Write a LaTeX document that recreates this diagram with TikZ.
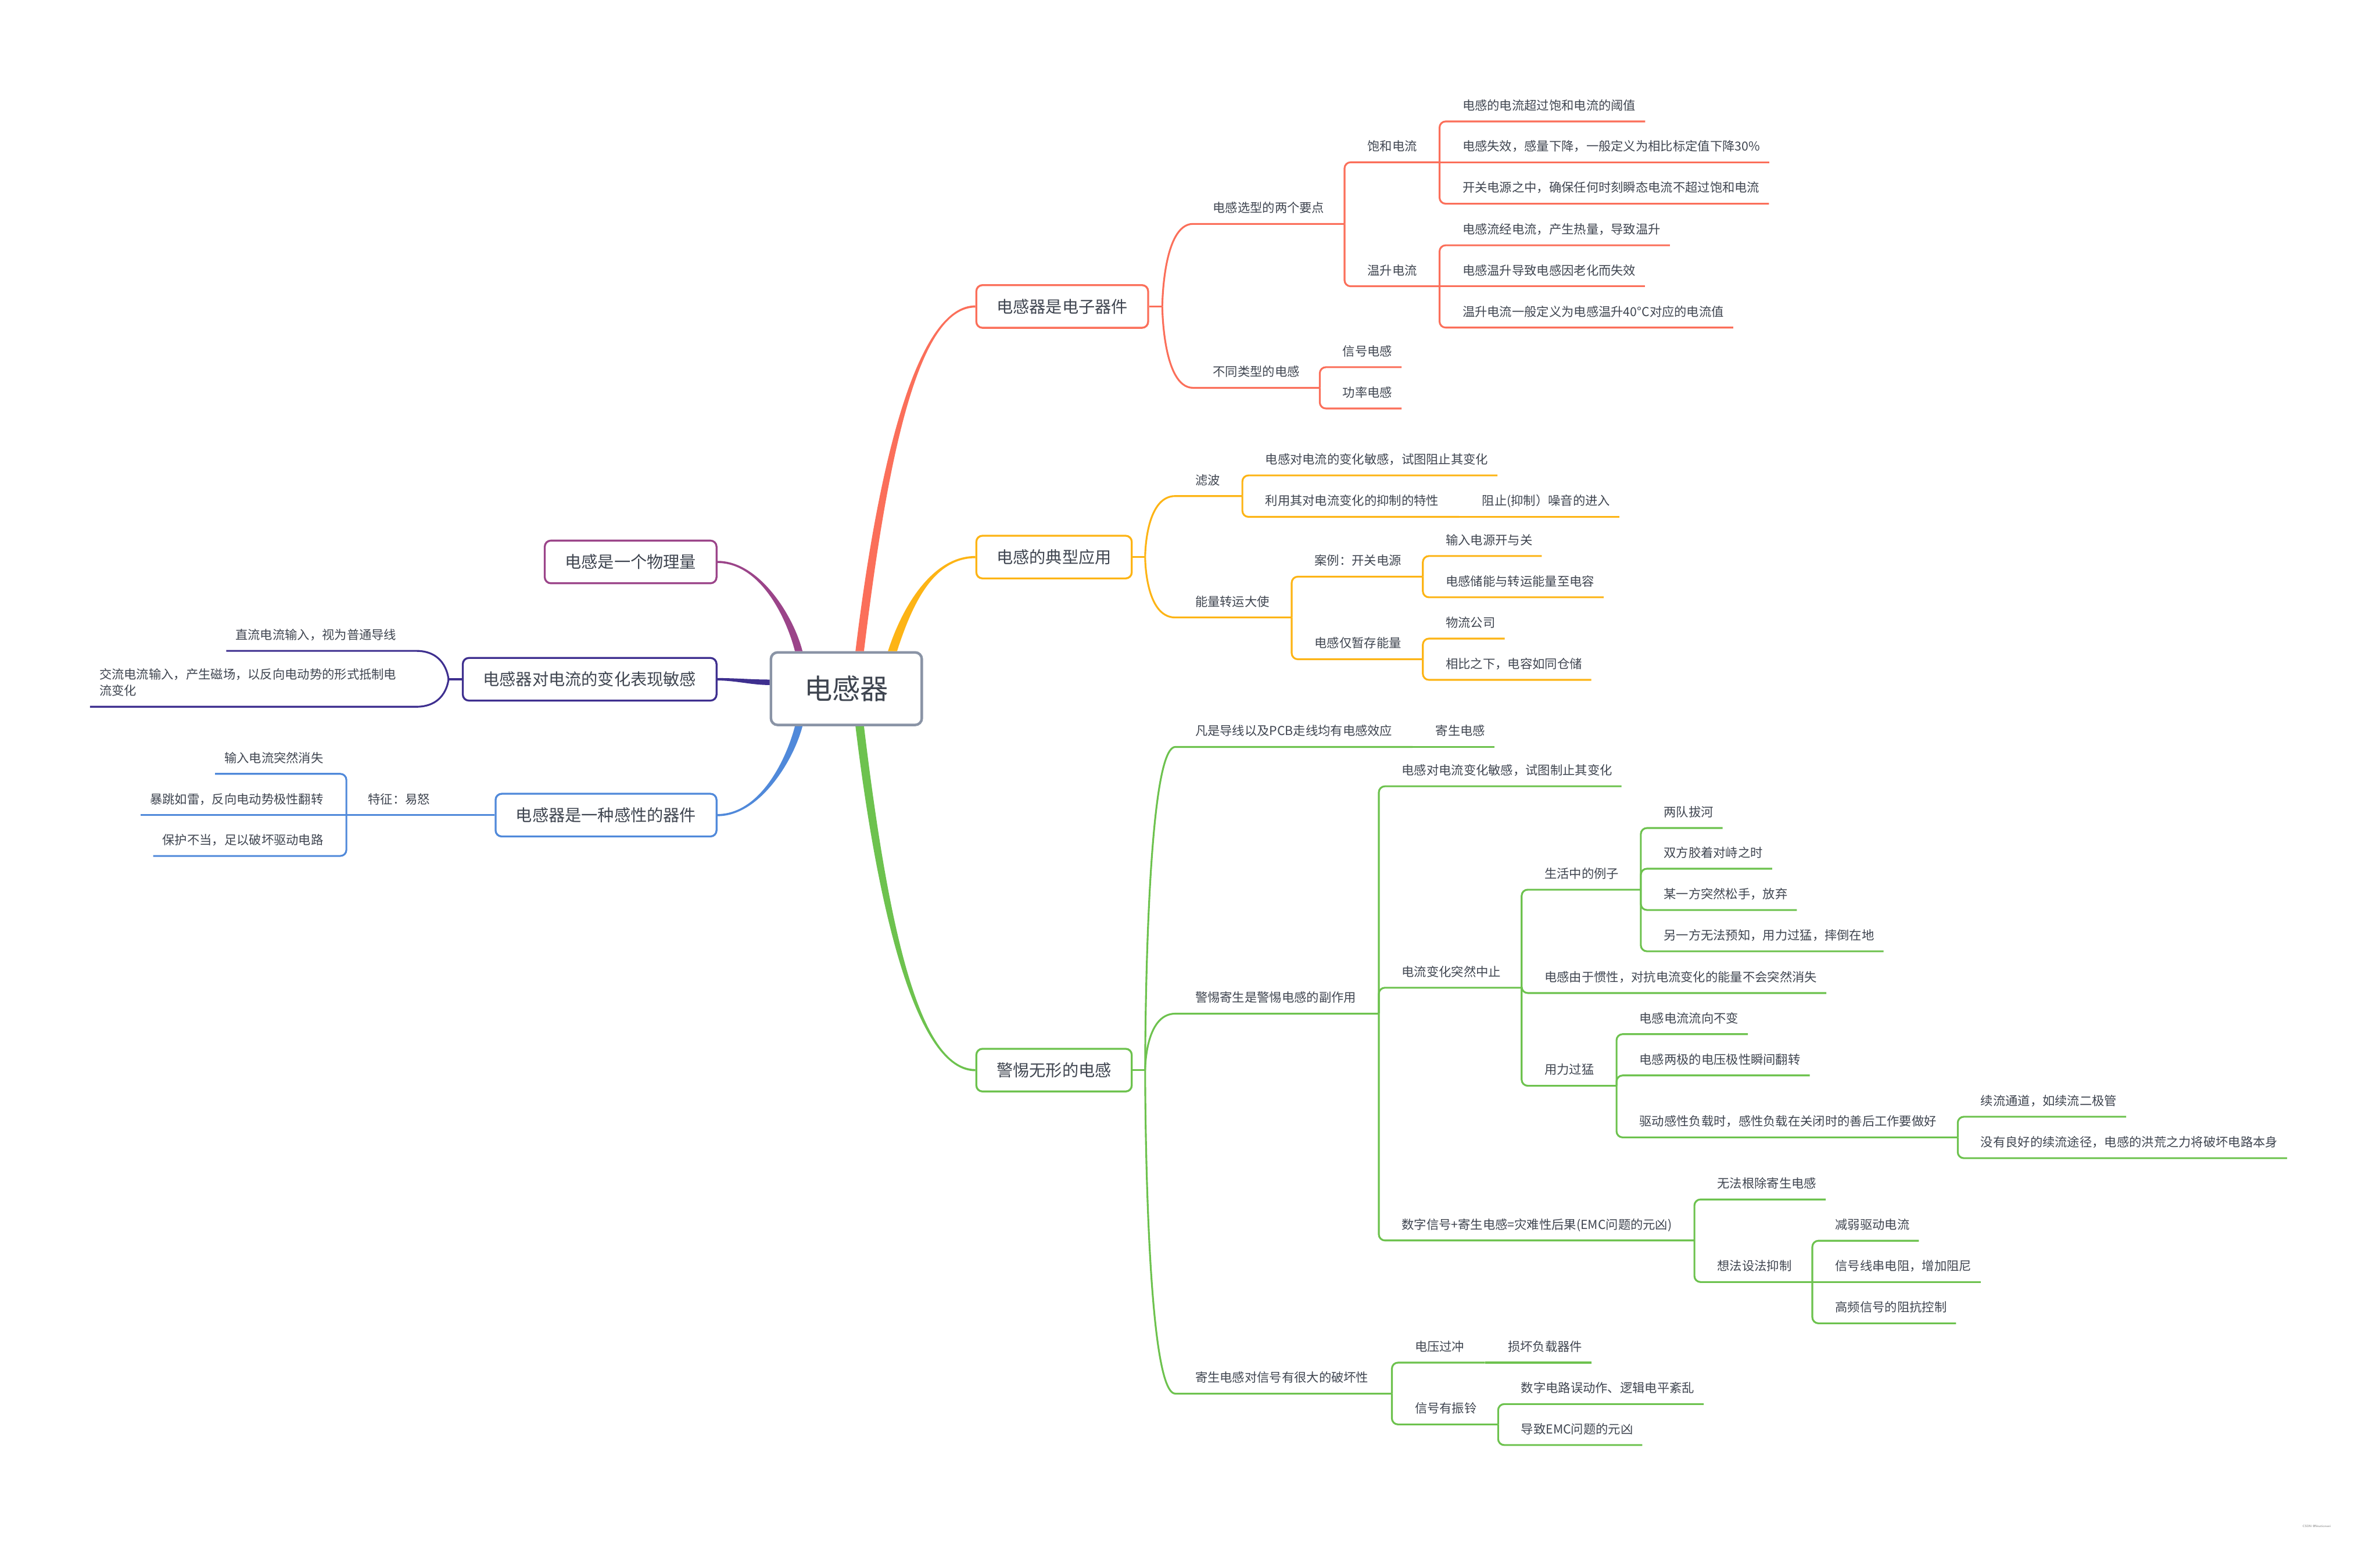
\documentclass[tikz,border=0pt]{standalone}
\usepackage{fontspec}
\newfontfamily\cjk{Noto Sans CJK SC}
\definecolor{inkgrey}{HTML}{3F4550}
\definecolor{rootgrey}{HTML}{8A94A6}
\definecolor{brred}{HTML}{FB6F5A}
\definecolor{brorange}{HTML}{FDB415}
\definecolor{brgreen}{HTML}{6DC24E}
\definecolor{brpurple}{HTML}{9B4489}
\definecolor{brindigo}{HTML}{3E2F8F}
\definecolor{brblue}{HTML}{5089DA}
\begin{document}
\begin{tikzpicture}[x=0.5mm, y=-0.5mm, font=\cjk, text=inkgrey,
    root node/.style={draw=rootgrey, line width=2.4pt, rounded corners=2.2mm, fill=white, minimum width=49.7mm, minimum height=23.9mm, inner sep=0pt, font=\cjk\fontsize{26.3pt}{30pt}\selectfont},
    main node/.style={line width=1.8pt, rounded corners=2mm, fill=white, minimum height=14.05mm, inner xsep=6.7mm, inner ysep=0pt, font=\cjk\fontsize{15.36pt}{18pt}\selectfont},
    topic/.style={anchor=south west, inner xsep=7.5mm, inner ysep=0pt, text depth=10.5pt, font=\cjk\fontsize{11.6pt}{15.2pt}\selectfont},
    ltopic/.style={topic, anchor=south east},
    redline/.style={draw=brred, line width=1.7pt, rounded corners=2mm},
    orangeline/.style={draw=brorange, line width=1.7pt, rounded corners=2mm},
    greenline/.style={draw=brgreen, line width=1.7pt, rounded corners=2mm},
    indigoline/.style={draw=brindigo, line width=1.7pt, rounded corners=2mm},
    blueline/.style={draw=brblue, line width=1.7pt, rounded corners=2mm},
    leaf/.style={shorten >=4.5mm} ]
    \fill[white] (0,0) rectangle (1568,1015);
    \useasboundingbox (0,0) rectangle (1568,1015);
    % root and main topics
    \node[root node] (c) at (557.6,453.7) {电感器};
    \node[main node, draw=brred, anchor=west] (r1) at (642.6,201.9) {电感器是电子器件};
    \node[main node, draw=brorange, anchor=west] (o1) at (642.6,367) {电感的典型应用};
    \node[main node, draw=brgreen, anchor=west] (g1) at (642.6,705) {警惕无形的电感};
    \node[main node, draw=brpurple, anchor=east] (p1) at (472.7,370.2) {电感是一个物理量};
    \node[main node, draw=brindigo, anchor=east] (i1) at (472.7,447.5) {电感器对电流的变化表现敏感};
    \node[main node, draw=brblue, anchor=east] (b1) at (472.7,537) {电感器是一种感性的器件};
    % tapered branches
    \coordinate (rt) at ([xshift=4.4mm]c.north);
    \coordinate (ot) at ([xshift=15.2mm]c.north);
    \coordinate (gt) at ([xshift=4.4mm]c.south);
    \coordinate (pt) at ([xshift=-15.7mm]c.north);
    \coordinate (bt) at ([xshift=-15.7mm]c.south);
    \coordinate (it) at ([yshift=2.1mm]c.west);
    \fill[brred] ([xshift=-1.4mm]rt) .. controls +(15.6,-129) and +(-37.6,0) .. ([yshift=0.35mm]r1.west) -- ([yshift=-0.35mm]r1.west) .. controls +(-37.6,0) and +(15.6,-129) .. ([xshift=1.4mm]rt) -- cycle;
    \fill[brorange] ([xshift=-1.5mm]ot) .. controls +(10,-31) and +(-27.6,0) .. ([yshift=0.35mm]o1.west) -- ([yshift=-0.35mm]o1.west) .. controls +(-27.6,0) and +(10,-31) .. ([xshift=1.5mm]ot) -- cycle;
    \fill[brgreen] ([xshift=-1.4mm]gt) .. controls +(15.6,129.6) and +(-37.6,0) .. ([yshift=-0.35mm]g1.west) -- ([yshift=0.35mm]g1.west) .. controls +(-37.6,0) and +(15.6,129.6) .. ([xshift=1.4mm]gt) -- cycle;
    \fill[brpurple] ([xshift=1.25mm]pt) .. controls +(-6.2,-24) and +(27.3,0) .. ([yshift=0.35mm]p1.east) -- ([yshift=-0.35mm]p1.east) .. controls +(27.3,0) and +(-6.2,-24) .. ([xshift=-1.25mm]pt) -- cycle;
    \fill[brblue] ([xshift=1.25mm]bt) .. controls +(-6.2,23.6) and +(27.3,0) .. ([yshift=-0.35mm]b1.east) -- ([yshift=0.35mm]b1.east) .. controls +(27.3,0) and +(-6.2,23.6) .. ([xshift=-1.25mm]bt) -- cycle;
    \fill[brindigo] ([yshift=0.9mm]it) .. controls +(-12,0) and +(12,0) .. ([yshift=0.4mm]i1.east) -- ([yshift=-0.4mm]i1.east) .. controls +(12,0) and +(-12,0) .. ([yshift=-0.9mm]it) -- cycle;
    \coordinate (rs) at ([xshift=4.35mm]r1.east);
    \coordinate (os) at ([xshift=4.1mm]o1.east);
    \coordinate (gs) at ([xshift=4.1mm]g1.east);
    \coordinate (is) at ([xshift=-4.4mm]i1.west);
    % red branch
    \node[topic] (r2a) at (784,147.5) {电感选型的两个要点};
    \node[topic] (r3a) at (885.8,106.9) {饱和电流};
    \node[topic] (r4a) at (948.4,80) {电感的电流超过饱和电流的阈值};
    \node[topic] (r4b) at (948.4,106.9) {电感失效，感量下降，一般定义为相比标定值下降30\%};
    \node[topic] (r4c) at (948.4,134.2) {开关电源之中，确保任何时刻瞬态电流不超过饱和电流};
    \node[topic] (r3b) at (885.8,188.6) {温升电流};
    \node[topic] (r4d) at (948.4,161.6) {电感流经电流，产生热量，导致温升};
    \node[topic] (r4e) at (948.4,188.6) {电感温升导致电感因老化而失效};
    \node[topic] (r4f) at (948.4,215.8) {温升电流一般定义为电感温升40°C对应的电流值};
    \node[topic] (r2b) at (784,255.5) {不同类型的电感};
    \node[topic] (r3c) at (869.5,241.9) {信号电感};
    \node[topic] (r3d) at (869.5,269.1) {功率电感};
    \draw[redline] (r1.east) -- (rs);
    \draw[redline] (rs) .. controls (rs) and +(-24,0) .. ([xshift=3mm]r2a.south west) -- (r2a.south west -| r3a.south west);
    \draw[redline] (rs) .. controls (rs) and +(-24,0) .. ([xshift=3mm]r2b.south west) -- (r2b.south west -| r3c.south west);
    \draw[redline] (r2a.south west -| r3a.south west) |- (r3a.south west -| r4a.south west);
    \draw[redline] (r2a.south west -| r3b.south west) |- (r3b.south west -| r4d.south west);
    \draw[redline, leaf] (r3a.south west -| r4a.south west) |- (r4a.south east);
    \draw[redline, leaf] (r3a.south west -| r4b.south west) -- (r4b.south east);
    \draw[redline, leaf] (r3a.south west -| r4c.south west) |- (r4c.south east);
    \draw[redline, leaf] (r3b.south west -| r4d.south west) |- (r4d.south east);
    \draw[redline, leaf] (r3b.south west -| r4e.south west) -- (r4e.south east);
    \draw[redline, leaf] (r3b.south west -| r4f.south west) |- (r4f.south east);
    \draw[redline, leaf] (r2b.south west -| r3c.south west) |- (r3c.south east);
    \draw[redline, leaf] (r2b.south west -| r3d.south west) |- (r3d.south east);
    % orange branch
    \node[topic] (o2a) at (772.3,326.8) {滤波};
    \node[topic] (o3a) at (818.5,313.2) {电感对电流的变化敏感，试图阻止其变化};
    \node[topic] (o3b) at (818.5,340.5) {利用其对电流变化的抑制的特性};
    \node[topic] (o4a) at (961.3,340.5) {阻止(抑制）噪音的进入};
    \node[topic] (o2b) at (772.3,406.8) {能量转运大使};
    \node[topic] (o3c) at (851,379.9) {案例：开关电源};
    \node[topic] (o4b) at (937.4,366.3) {输入电源开与关};
    \node[topic] (o4c) at (937.4,393.5) {电感储能与转运能量至电容};
    \node[topic] (o3d) at (851,434.3) {电感仅暂存能量};
    \node[topic] (o4d) at (937.4,420.7) {物流公司};
    \node[topic] (o4e) at (937.4,447.9) {相比之下，电容如同仓储};
    \draw[orangeline] (o1.east) -- (os);
    \draw[orangeline] (os) .. controls (os) and +(-24,0) .. ([xshift=3mm]o2a.south west) -- (o2a.south west -| o3a.south west);
    \draw[orangeline] (os) .. controls (os) and +(-24,0) .. ([xshift=3mm]o2b.south west) -- (o2b.south west -| o3c.south west);
    \draw[orangeline, leaf] (o2a.south west -| o3a.south west) |- (o3a.south east);
    \draw[orangeline] (o2a.south west -| o3b.south west) |- (o3b.south west -| o4a.south west);
    \draw[orangeline, leaf] (o3b.south west -| o4a.south west) -- (o4a.south east);
    \draw[orangeline] (o2b.south west -| o3c.south west) |- (o3c.south west -| o4b.south west);
    \draw[orangeline] (o2b.south west -| o3d.south west) |- (o3d.south west -| o4d.south west);
    \draw[orangeline, leaf] (o3c.south west -| o4b.south west) |- (o4b.south east);
    \draw[orangeline, leaf] (o3c.south west -| o4c.south west) |- (o4c.south east);
    \draw[orangeline, leaf] (o3d.south west -| o4d.south west) |- (o4d.south east);
    \draw[orangeline, leaf] (o3d.south west -| o4e.south west) |- (o4e.south east);
    % green branch
    \node[topic] (g2a) at (772.3,492.1) {凡是导线以及PCB走线均有电感效应};
    \node[topic] (g3a) at (930.7,492.1) {寄生电感};
    \node[topic] (g2b) at (772.3,667.8) {警惕寄生是警惕电感的副作用};
    \node[topic] (g3b) at (908.4,518) {电感对电流变化敏感，试图制止其变化};
    \node[topic] (g3c) at (908.4,650.7) {电流变化突然中止};
    \node[topic] (g4a) at (1002.5,586.1) {生活中的例子};
    \node[topic] (g5a) at (1081,545.5) {两队拔河};
    \node[topic] (g5b) at (1081,572.3) {双方胶着对峙之时};
    \node[topic] (g5c) at (1081,599.5) {某一方突然松手，放弃};
    \node[topic] (g5d) at (1081,626.7) {另一方无法预知，用力过猛，摔倒在地};
    \node[topic] (g4b) at (1002.5,654.2) {电感由于惯性，对抗电流变化的能量不会突然消失};
    \node[topic] (g4c) at (1002.5,715.3) {用力过猛};
    \node[topic] (g5e) at (1065,681.3) {电感电流流向不变};
    \node[topic] (g5f) at (1065,708.5) {电感两极的电压极性瞬间翻转};
    \node[topic] (g5g) at (1065,749.3) {驱动感性负载时，感性负载在关闭时的善后工作要做好};
    \node[topic] (g6a) at (1289.8,735.7) {续流通道，如续流二极管};
    \node[topic] (g6b) at (1289.8,763) {没有良好的续流途径，电感的洪荒之力将破坏电路本身};
    \node[topic] (g3d) at (908.4,817.2) {数字信号+寄生电感=灾难性后果(EMC问题的元凶)};
    \node[topic] (g4d) at (1116.3,790.2) {无法根除寄生电感};
    \node[topic] (g4e) at (1116.3,844.6) {想法设法抑制};
    \node[topic] (g5h) at (1194,817.4) {减弱驱动电流};
    \node[topic] (g5i) at (1194,844.6) {信号线串电阻，增加阻尼};
    \node[topic] (g5j) at (1194,871.8) {高频信号的阻抗控制};
    \node[topic] (g2c) at (772.3,918.1) {寄生电感对信号有很大的破坏性};
    \node[topic] (g3e) at (917,897.7) {电压过冲};
    \node[topic] (g4f) at (978.3,897.7) {损坏负载器件};
    \node[topic] (g3f) at (917,938.4) {信号有振铃};
    \node[topic] (g4g) at (987,925) {数字电路误动作、逻辑电平紊乱};
    \node[topic] (g4h) at (987,952) {导致EMC问题的元凶};
    \draw[greenline] (g1.east) -- (gs);
    \draw[greenline] (gs) .. controls (gs) and +(-24,0) .. ([xshift=3mm]g2a.south west) -- (g2a.south west -| g3a.south west);
    \draw[greenline] (gs) .. controls (gs) and +(-24,0) .. ([xshift=3mm]g2b.south west) -- (g2b.south west -| g3b.south west);
    \draw[greenline] (gs) .. controls (gs) and +(-24,0) .. ([xshift=3mm]g2c.south west) -- (g2c.south west -| g3e.south west);
    \draw[greenline, leaf] (g2a.south west -| g3a.south west) -- (g3a.south east);
    \draw[greenline, leaf] (g2b.south west -| g3b.south west) |- (g3b.south east);
    \draw[greenline] (g2b.south west -| g3c.south west) |- (g3c.south west -| g4a.south west);
    \draw[greenline] (g2b.south west -| g3d.south west) |- (g3d.south west -| g4d.south west);
    \draw[greenline] (g3c.south west -| g4a.south west) |- (g4a.south west -| g5a.south west);
    \draw[greenline, leaf] (g3c.south west -| g4b.south west) |- (g4b.south east);
    \draw[greenline] (g3c.south west -| g4c.south west) |- (g4c.south west -| g5e.south west);
    \draw[greenline, leaf] (g4a.south west -| g5a.south west) |- (g5a.south east);
    \draw[greenline, leaf] (g4a.south west -| g5b.south west) |- (g5b.south east);
    \draw[greenline, leaf] (g4a.south west -| g5c.south west) |- (g5c.south east);
    \draw[greenline, leaf] (g4a.south west -| g5d.south west) |- (g5d.south east);
    \draw[greenline, leaf] (g4c.south west -| g5e.south west) |- (g5e.south east);
    \draw[greenline, leaf] (g4c.south west -| g5f.south west) |- (g5f.south east);
    \draw[greenline] (g4c.south west -| g5g.south west) |- (g5g.south west -| g6a.south west);
    \draw[greenline, leaf] (g5g.south west -| g6a.south west) |- (g6a.south east);
    \draw[greenline, leaf] (g5g.south west -| g6b.south west) |- (g6b.south east);
    \draw[greenline, leaf] (g3d.south west -| g4d.south west) |- (g4d.south east);
    \draw[greenline] (g3d.south west -| g4e.south west) |- (g4e.south west -| g5h.south west);
    \draw[greenline, leaf] (g4e.south west -| g5h.south west) |- (g5h.south east);
    \draw[greenline, leaf] (g4e.south west -| g5i.south west) -- (g5i.south east);
    \draw[greenline, leaf] (g4e.south west -| g5j.south west) |- (g5j.south east);
    \draw[greenline] (g2c.south west -| g3e.south west) |- (g3e.south west -| g4f.south west);
    \draw[greenline, leaf] (g3e.south west -| g4f.south west) -- (g4f.south east);
    \draw[greenline] (g2c.south west -| g3f.south west) |- (g3f.south west -| g4g.south west);
    \draw[greenline, leaf] (g3f.south west -| g4g.south west) |- (g4g.south east);
    \draw[greenline, leaf] (g3f.south west -| g4h.south west) |- (g4h.south east);
    % left branches
    \node[ltopic] (i2a) at (276.3,428.8) {直流电流输入，视为普通导线};
    \node[ltopic, align=left] (i2b) at (276.3,465.6) {交流电流输入，产生磁场，以反向电动势的形式抵制电\\流变化};
    \node[ltopic] (b2) at (298.4,537) {特征：易怒};
    \node[ltopic] (b3a) at (228.2,509.8) {输入电流突然消失};
    \node[ltopic] (b3b) at (228.2,537) {暴跳如雷，反向电动势极性翻转};
    \node[ltopic] (b3c) at (228.2,563.9) {保护不当，足以破坏驱动电路};
    \draw[indigoline] (i1.west) -- (is);
    \draw[indigoline, leaf] (is) .. controls (is) and +(24,0) .. ([xshift=-3mm]i2a.south east) -- (i2a.south west);
    \draw[indigoline, leaf] (is) .. controls (is) and +(24,0) .. ([xshift=-3mm]i2b.south east) -- (i2b.south west);
    \draw[blueline] (b1.west) -- (b2.south east) -- (b2.south east -| b3a.south east);
    \draw[blueline, leaf] (b2.south east -| b3a.south east) |- (b3a.south west);
    \draw[blueline, leaf] (b2.south east -| b3b.south east) -- (b3b.south west);
    \draw[blueline, leaf] (b2.south east -| b3c.south east) |- (b3c.south west);
    \node[anchor=east, text=gray, font=\sffamily\fontsize{3pt}{3.6pt}\selectfont] (wm) at (1538,1005.5) {CSDN @Neutionwei};
\end{tikzpicture}
\end{document}
